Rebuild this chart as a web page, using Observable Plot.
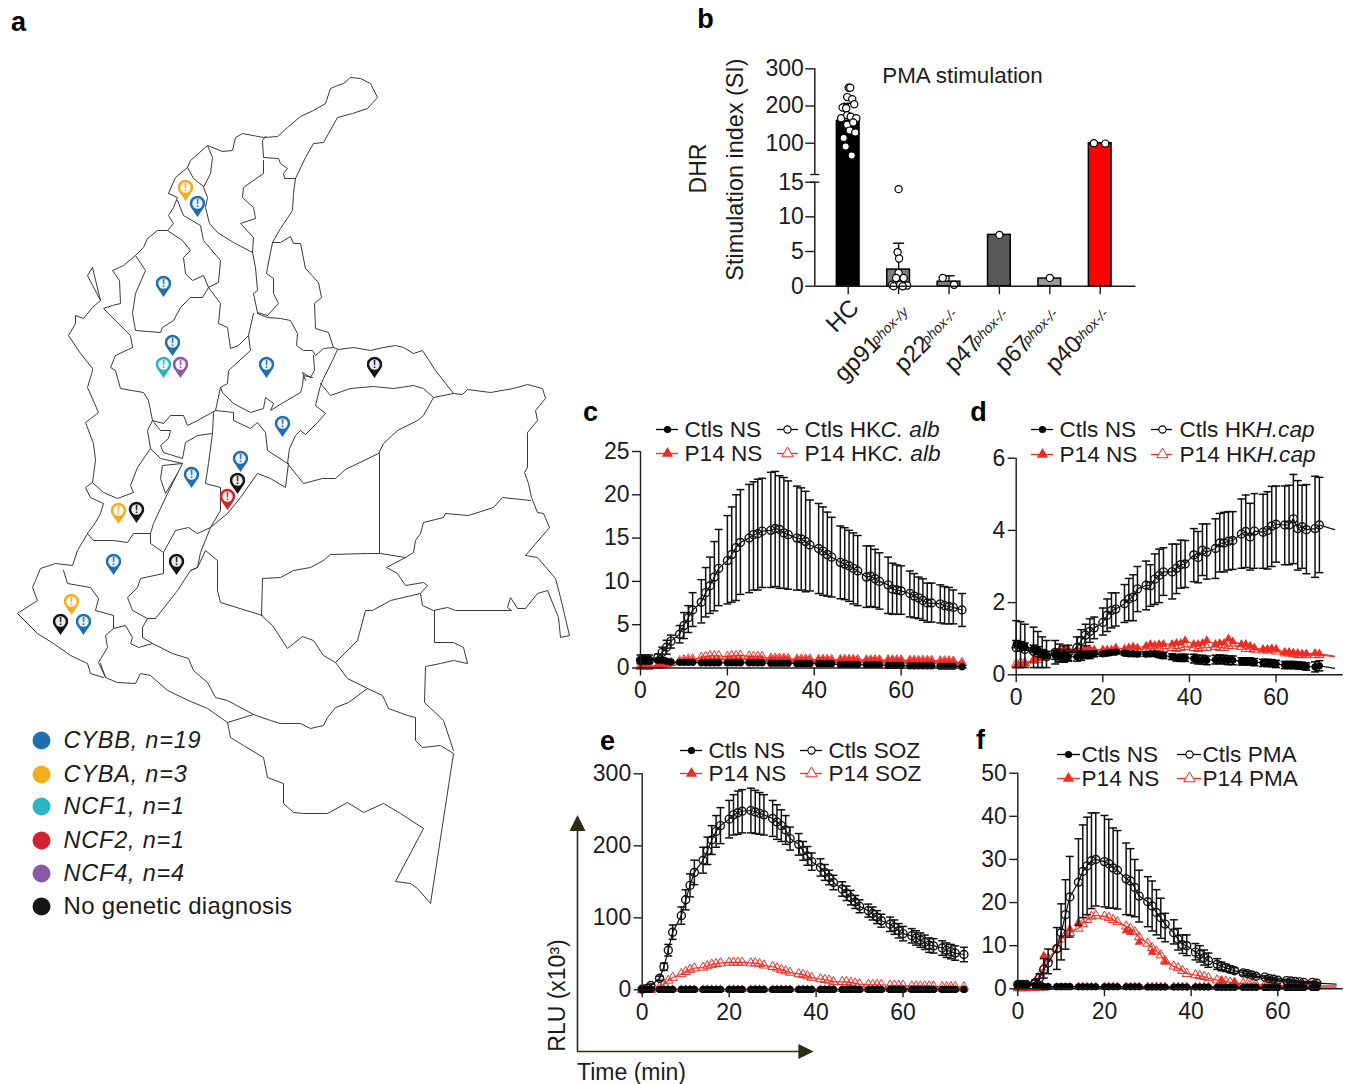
<!DOCTYPE html>
<html><head><meta charset="utf-8">
<style>html,body{margin:0;padding:0;background:#fff}#page{position:relative;width:1345px;height:1084px;overflow:hidden}#page svg{position:absolute;overflow:visible;background:transparent}.lgItalic text{letter-spacing:.8px}.lgPlain text{letter-spacing:.3px}</style>
<script src="https://cdn.jsdelivr.net/npm/d3@7"></script>
<script src="https://cdn.jsdelivr.net/npm/@observablehq/plot@0.6"></script>
</head><body><div id="page"></div>
<script>
// ---------- Panel a: map borders (x,y pairs in map units) ----------
const mapBorders = [
 [168,193,175,177,187,167,190,160,207,145,222,151,232,150,235,137,242,133,263,137,277,136,287,127,300,116,313,110,325,103,330,88,337,85,343,83,350,77,360,78,370,83,377,97,367,108,352,113,337,117,323,142,313,143,305,157,295,178,284,178,283,173,287,168,280,163,278,158,263,157,262,140,265,136],
 [295,178,293,193,292,210,280,228,272,242,267,267,266,273,273,278,273,293,278,303,267,315,257,312],
 [272,242,280,242,290,236,293,243,300,243,305,268,318,282,321,297,314,303,315,328,328,332,333,347],
 [257,313,267,317,280,318,290,320,297,333,296,345,303,350,312,350,315,355,323,348,333,347,338,349,353,347,370,350,383,347,395,345,403,347,413,353,422,350,435,370,453,393],
 [207,145,212,157,210,173,203,187,207,197,205,207,209,223,217,232,233,242,252,252,255,267,257,290,253,293,257,312],
 [252,252,253,237,240,223,255,218,253,207,242,197,243,187,263,173,263,160],
 [203,186,193,178,187,167],
 [168,193,177,197,173,207,168,215,173,223,167,230,157,230,147,238,143,247,135,255,123,265,112,270,119,280,120,303,112,305,103,308,130,335,132,347,115,355,110,367,115,370,120,388,143,392,148,400,152,420,147,430,150,448,160,458,182,463],
 [135,255,145,270,135,293,132,313,135,330,160,332,162,327,173,320,180,307,190,297,202,297,208,287,203,275,192,280,185,273,183,257,190,250,182,240,167,230],
 [177,200,183,215,200,225,203,240,220,260,218,282,208,287,220,303,218,323,227,327,230,348,238,345,248,335,253,313],
 [248,335,250,350,228,370,227,383,220,387,215,410,197,420,187,425,183,415,170,415,163,423,152,420],
 [92,267,87,275,100,300,92,307,83,318,75,315,75,323,68,335,80,353,92,368,92,370,87,387,98,412,85,422,93,443,95,460,92,482,85,487,90,497,103,503,100,513,95,522,87,533,77,550,72,565,55,563,40,568,35,580,32,587,37,600,17,613,37,633,53,643,70,655,87,663,90,673,103,677],
 [92,267,100,300],
 [150,448,137,467,130,485,133,492,117,498,103,492,92,482],
 [87,533,93,540,113,540,127,542,133,533,150,533,153,523,167,493,182,463],
 [150,533,150,543,163,552,163,573,140,578,137,587,127,597,132,610,147,618,155,618,177,590,190,570,197,567,200,552,210,527,227,513,240,497,257,473,270,478,285,487,288,463],
 [182,463,162,465,160,478,165,493,177,473],
 [152,420,160,430,170,430,168,438,160,445,163,452,182,458,185,442,197,435,212,433,213,412,215,410],
 [212,433,208,463,205,483,220,487,220,510,210,527,197,533,188,527,175,530,163,552],
 [215,410,233,412,233,420,250,428,257,422,265,432,267,450,287,463,289,448,295,435,300,430,305,434,317,422,325,413,315,405,320,385,323,378,332,360,337,349],
 [222,392,233,403,250,412,263,408,265,397,273,403,270,410,283,402,300,392,302,385,303,375,312,377],
 [220,387,222,392],
 [313,355,314,370,310,377,302,372,305,380],
 [320,383,330,395,350,388,373,386,393,388,413,385,423,388,433,397,453,393,462,394,467,389,490,392,513,388,527,384,542,388,545,398,535,410,537,420,527,432,527,467,524,472,528,483,531,497,537,512,543,513,549,527,525,555,537,557,555,578,560,597,569,635,560,637,558,617,547,590,537,593,525,608,517,608,510,597,507,607,511,610,455,610,447,607,433,610,422,605,420,593,427,585,423,582,405,585,397,573,386,567,405,557,413,552,415,540,420,533,423,522,443,517,445,513,468,515,493,507,502,497,530,500],
 [433,397,423,415,417,420,397,430,383,443,378,453,345,469,335,478,322,478,303,483,287,463],
 [379,453,379,553],
 [405,557,380,553,367,553,330,554,323,560,310,567,293,570,280,577,262,578,261,615,272,625,287,648,302,636,313,640,323,655,335,662,357,640,365,610,372,610,390,600,420,593],
 [262,615,220,602,217,590,217,560,205,550,197,567],
 [335,662,347,678,367,688,382,695,388,708,407,715,415,717,415,740,422,747,440,745,453,753,430,903,417,888,410,883,395,881,423,828,400,813,383,803,363,812,347,802,327,813,303,813,293,812,283,803,283,783,267,777,263,757,243,745,230,737,227,722],
 [434,610,434,642,453,642,463,647,467,663,453,660,440,663,425,666,424,702,443,720,453,750],
 [367,688,348,702,335,707,327,717,323,725,310,728,300,723,280,723,270,720,253,714,227,722],
 [100,663,105,677,117,682,135,683,140,673,150,675,167,690,188,700,207,708,227,722],
 [155,618,147,618,142,627,142,637,152,643,172,653,188,658,193,670,207,682,215,697,227,700,253,714],
 [113,615,113,628,105,635,107,647,98,662,105,677],
 [113,628,125,625,132,637,130,643,138,647,152,643],
 [113,615,95,610,98,598,90,587,67,583,63,570],
 [197,567,190,570]
];
// ---------- Panel a: diagnostic pins ----------
const pinGene = ["CYBA","CYBB","CYBB","CYBB","NCF1","NCF4","CYBB","None","CYBB","CYBB","None","NCF2","CYBB","CYBA","None","CYBB","None","CYBA","None","CYBB"];
const pinX = [185,197,163,172,163,180,266,374,282,240,237,227,191,118,136,113,176,71,60,83];
const pinY = [187,203,283,342,364,364,364,364,423,458,480,496,474,510,509,561,561,601,621,621];
const geneKeys = ["CYBB","CYBA","NCF1","NCF2","NCF4","None"];
const geneColors = ["#1f6fb0","#f2ae1c","#2bb5c4","#d3202c","#8b58a6","#151515"];
const geneLabels = ["CYBB, n=19","CYBA, n=3","NCF1, n=1","NCF2, n=1","NCF4, n=4","No genetic diagnosis"];
// ---------- Panel b ----------
const bCats = ["HC","gp91","p22","p47","p67","p40"];
const bSupers = ["","phox-/y","phox-/-","phox-/-","phox-/-","phox-/-"];
const bMeans = [160,2.4,0.65,7.4,1.1,100];
const bErrHi = [207,6.2,1.5,null,null,null];
const bFills = ["#000000","#7f7f7f","#7f7f7f","#595959","#999999","#ff0000"];
const bDotCat = [0,0,0,0,0,0,0,0,0,0,0,0,0,0,0,0,0,0,1,1,1,1,1,1,1,1,1,1,1,2,2,3,4,5,5];
const bDotOff = [0.01,0.04,-0.02,0.08,0.12,-0.11,-0.04,-0.14,-0.02,0.05,0.16,-0.02,0.1,0.03,0.14,-0.09,-0.05,0.07,0,-0.02,0.01,0,-0.05,0.1,-0.13,-0.1,0.03,0.17,0.08,-0.125,0.1,0,0,-0.125,0.1];
const bDotVal = [249,249,224,218,205,196,194,167,175,171,167,150,156,134,129,114,91,67,14,4.9,4,1.9,1.2,1.2,0.2,0,0.2,0.1,0,1.2,0.2,7.4,1.2,100,99];
// ---------- Time axes ----------
const t74 = [0,1,2, 4,5,6,7, 9,10,11,12, 14,15,16,17,18, 20,21,22,23, 25,26,27,28, 30,31,32,33,34, 36,37,38,39, 41,42,43,44, 46,47,48,49,50, 52,53,54,55, 57,58,59,60, 62,63,64,65,66,67, 69,70,71,72, 74];
const t70 = [0,1,2, 4,5,6,7, 9,10,11,12, 14,15,16,17,18, 20,21,22,23, 25,26,27,28, 30,31,32,33,34, 36,37,38,39, 41,42,43,44, 46,47,48,49,50, 52,53,54,55, 57,58,59,60, 62,63,64,65,66,67, 69,70];
const t69 = [0,1,2, 4,5,6,7, 9,10,11,12, 14,15,16,17,18, 20,21,22,23, 25,26,27,28, 30,31,32,33,34, 36,37,38,39, 41,42,43,44, 46,47,48,49,50, 52,53,54,55, 57,58,59,60, 62,63,64,65,66, 68,69];
// ---------- Panel c ----------
const cHK = [.9,.9,.9, 1.2,1.8,2.4,3.1, 3.9,4.9,5.8,6.7, 7.6,8.7,9.5,10.5,11.5, 12.4,13.1,13.9,14.5, 15,15.4,15.5,15.8, 15.9,16.1,16,15.6,15.4, 15,14.9,14.6,14.2, 13.8,13.5,13.1,12.8, 12.2,12,11.8,11.5,11.2, 10.5,10.6,10.3,10, 9.6,9.1,9,8.9, 8.6,8.3,8.1,7.8,7.5,7.5, 7.4,7.2,7.1,7, 6.7];
const cHKhi = [1.5,1.5,1.5, 1.6,2.4,3.2,3.8, 4.9,6.4,7.2,8.7, 10.2,11.6,12.8,14.6,16, 17.6,18.6,20,20.6, 21.2,21.5,21.8,21.9, 22.6,22.7,22.2,22,21.6, 21,20.8,20.4,19.4, 19,18.6,18,17.4, 16.4,16.2,15.9,15.6,15.3, 14.1,14.1,13.7,13.3, 12.8,12.1,11.9,11.8, 11.2,10.9,10.5,10.3,9.8,9.8, 9.6,9.4,9.3,9, 8.6];
const cHKlo = [.5,.5,.5, .7,1.2,1.6,2.3, 2.9,3.4,4.1,4.8, 5.2,5.9,6.3,6.6,7.2, 7.4,7.6,7.8,8.5, 8.7,9,9,9.3, 9.3,9.4,9.2,9.2,9.1, 9,9,8.8,8.9, 8.6,8.4,8.3,8.2, 8,7.9,7.7,7.4,7.2, 7,7.1,7,6.8, 6.3,6.2,6.2,6.2, 5.9,5.8,5.7,5.5,5.3,5.3, 5.2,5.1,5.1,5.1, 4.8];
const cNS = [.9,.9,.9, .9,.9,.8,.7, .65,.65,.65,.65, .6,.6,.6,.6,.6, .6,.6,.6,.6, .6,.6,.6,.6, .55,.55,.55,.55,.55, .5,.5,.5,.5, .5,.5,.5,.5, .4,.4,.4,.4,.4, .35,.35,.35,.35, .3,.3,.3,.3, .25,.25,.25,.25,.25,.25, .2,.2,.2,.2, .15];
const cP14NS = [.1,.1,.1, .2,.3,.4,.5, .7,.8,.85,.85, .9,.9,.95,.95,.95, 1,1,1,1, 1,1,1,1, 1,1,1,1,.95, .9,.9,.9,.9, .9,.9,.9,.85, .9,.9,.9,.9,.85, .85,.85,.85,.85, .85,.85,.85,.85, .8,.8,.8,.75,.75,.75, .7,.7,.7,.7, .5];
const cP14HK = [.2,.2,.2, .3,.4,.5,.6, .8,.9,1,1, 1.2,1.3,1.4,1.4,1.4, 1.3,1.4,1.4,1.45, 1.35,1.3,1.3,1.3, 1.1,1.1,1.1,1.1,1.05, 1,1,1,1, .95,.95,.95,.95, .95,.95,.95,.95,.95, .9,.9,.9,.9, .9,.9,.9,.9, .85,.85,.85,.85,.85,.85, .8,.8,.8,.75, .6];
// ---------- Panel d ----------
const dHK = [.75,.75,.7, .65,.6,.58,.5, .62,.6,.55,.6, .75,.95,1.1,1.2,1.3, 1.45,1.65,1.78,1.82, 1.97,2.1,2.15,2.38, 2.48,2.47,2.65,2.75,2.85, 2.85,2.95,3.05,3.07, 3.32,3.25,3.45,3.4, 3.5,3.65,3.65,3.7,3.72, 3.9,3.97,3.82,3.98, 3.95,4,4.12,4.17, 4.15,4.15,4.32,4.05,4.1,4.02, 4.05,4.15];
const dHKhi = [1.5,1.47,1.4, 1.32,1.2,1.05,.95, .95,.85,.8,.82, 1.05,1.25,1.4,1.55,1.6, 1.85,2.1,2.27,2.27, 2.5,2.67,2.77,3, 3.15,3.05,3.35,3.48,3.52, 3.62,3.62,3.73,3.72, 4.05,3.97,4.18,4.18, 4.32,4.47,4.5,4.52,4.52, 4.87,4.98,4.75,5.02, 5,5.07,5.22,5.23, 5.23,5.25,5.55,5.38,5.25,5.27, 5.5,5.47];
const dHKlo = [.2,.2,.2, .2,.2,.2,.2, .3,.35,.35,.4, .5,.65,.8,.9,1, 1.1,1.2,1.3,1.35, 1.45,1.5,1.5,1.75, 1.8,1.9,1.95,2,2.2, 2.1,2.25,2.4,2.42, 2.58,2.55,2.75,2.65, 2.67,2.85,2.85,2.9,2.92, 2.95,2.97,2.9,2.95, 2.95,2.93,3,3.12, 3.05,3.05,3.08,2.9,2.95,2.8, 2.7,2.83];
const dNS = [.85,.82,.78, .72,.68,.6,.55, .55,.5,.47,.5, .5,.52,.55,.55,.58, .58,.6,.62,.63, .6,.58,.58,.57, .57,.58,.58,.55,.53, .5,.47,.47,.47, .45,.42,.42,.4, .42,.43,.42,.4,.4, .37,.37,.37,.35, .33,.33,.32,.3, .27,.27,.27,.26,.25,.23, .22,.25];
const dNSerr = [.1,.1,.1, .1,.1,.1,.1, .12,.12,.12,.12, .12,.12,.1,.1,.08, .06,.06,.05,.05, .05,.06,.06,.06, .06,.06,.07,.07,.08, .08,.09,.1,.1, .12,.12,.12,.12, .12,.12,.12,.12,.12, .1,.1,.1,.1, .1,.1,.1,.1, .1,.1,.1,.1,.1,.1, .14,.14];
const dP14NS = [.25,.28,.3, .4,.45,.5,.55, .6,.68,.72,.72, .7,.68,.72,.72,.7, .7,.7,.7,.75, .72,.75,.78,.75, .8,.85,.82,.85,.85, .85,.88,.88,.95, .85,.85,.88,.95, .85,.88,.88,1,.92, .85,.85,.8,.75, .7,.7,.72,.72, .62,.62,.6,.6,.58,.58, .6,.58];
const dP14HK = [.3,.33,.33, .4,.42,.48,.55, .6,.62,.65,.65, .65,.65,.68,.65,.65, .6,.6,.62,.65, .65,.7,.72,.7, .72,.72,.72,.75,.72, .75,.72,.75,.78, .75,.72,.75,.75, .78,.75,.75,.8,.8, .78,.72,.72,.7, .68,.68,.7,.65, .6,.6,.58,.55,.55,.55, .55,.55];
// ---------- Panel e ----------
const eSOZ = [1,2,6, 16,32,55,80, 103,125,145,163, 180,193,208,220,228, 237,243,246,248, 249,247,245,243, 238,233,228,222,210, 202,193,186,178, 170,163,156,149, 140,134,128,122,116, 110,106,101,96, 91,87,82,78, 75,72,69,66,62,61, 58,55,53,51, 49];
const eSOZerr = [1,1,2, 3,5,8,10, 12,14,16,17, 18,19,20,22,25, 26,28,30,30, 31,30,29,28, 25,24,22,20,16, 15,13,13,12, 12,11,10,10, 10,10,10,9,9, 9,9,9,9, 10,10,10,10, 10,10,10,10,10,10, 10,10,10,10, 10];
const eP14SOZ = [0,0,0, 4,8,13,17, 22,25,28,30, 31,33,35,36,37, 38,38,38,38, 37,37,36,34, 32,30,28,26,24, 22,21,19,17, 15,14,13,11, 11,11,10,9,8, 7,7,7,7, 6,6,6,6, 5,5,5,5,5,5, 4,4,4,4, 4];
const eNS = [.5,.5,.5, .5,.5,.5,.5, .5,.5,.5,.5, .5,.5,.5,.5,.5, .5,.5,.5,.5, .5,.5,.5,.5, .5,.5,.5,.5,.5, .5,.5,.5,.5, .5,.5,.5,.5, .5,.5,.5,.5,.5, .5,.5,.5,.5, .5,.5,.5,.5, .5,.5,.5,.5,.5,.5, .5,.5,.5,.5, .5];
const eP14NS = [0,0,0, .5,.5,.5,.5, .5,.5,.5,.5, .5,.5,.5,.5,.5, .5,.5,.5,.5, .5,.5,.5,.5, .5,.5,.5,.5,.5, .5,.5,.5,.5, .5,.5,.5,.5, .5,.5,.5,.5,.5, .5,.5,.5,.5, .5,.5,.5,.5, .5,.5,.5,.5,.5,.5, .5,.5,.5,.5, .5];
// ---------- Panel f ----------
const fPMA = [1,1,1, 1.4,2.5,4.5,6, 9.3,13,17.2,21.3, 24.7,27.2,28.5,29.7,30, 29.5,29,28,27.5, 25.5,25,23.5,21.5, 20.2,19.2,17.7,16.5,15, 13,11.5,10.2,10, 8.5,8,7.2,6.5, 5.7,5.2,4.9,4.5,4.2, 3.7,3.5,3.2,2.9, 2.7,2.4,2.2,2, 1.9,1.8,1.7,1.6,1.5, 1.5,1.3];
const fPMAhi = [1.5,1.5,1.5, 2,3.5,7,9.2, 14.2,19.7,25.3,30.7, 34.8,38,39.8,40.8,40.8, 40.2,39.3,37.3,36.7, 33.8,32.5,30,27.5, 26,25,23,21,17.5, 16,14,12.5,12.5, 10.5,10,9,8.3, 7,6.2,5.7,5.3,4.9, 4.2,4,3.6,3.3, 3,2.7,2.5,2.3, 2.2,2,1.9,1.8,1.7, 1.7,1.5];
const fPMAlo = [.5,.5,.5, .8,1.5,2.5,3.5, 4.5,6.7,9.2,12, 14.7,16.5,17.2,18.6,19.2, 19,18.7,18.7,18.5, 17.2,17,16.7,15.5, 14.4,13.4,12.5,11.7,10.9, 10.4,9,8.2,7.7, 6.7,6.2,5.5,5, 4.5,4.2,4,3.8,3.6, 3.2,3,2.8,2.6, 2.4,2.1,2,1.8, 1.6,1.5,1.5,1.4,1.3, 1.3,1.1];
const fP14PMA = [.3,.3,.3, 1.5,3,5,7, 9.3,11.5,12.5,13, 14,15,16,16.8,17, 16.8,16.5,16,15.5, 14.5,14,13.2,12, 10.5,9.5,8.7,7.8,6.5, 5.2,4.8,4.2,3.5, 3.2,3,2.8,2.5, 2,1.8,1.7,1.5,1.4, 1.2,1.1,1,.9, .9,.8,.8,.8, .8,.8,.8,.8,.7, .7,.7];
const fNS = [.9,.9,.9, .8,.7,.5,.5, .5,.5,.5,.5, .45,.45,.45,.45,.45, .45,.45,.45,.45, .45,.45,.45,.45, .4,.4,.4,.4,.4, .4,.4,.4,.4, .4,.4,.4,.4, .35,.35,.35,.35,.35, .35,.35,.35,.35, .3,.3,.3,.3, .3,.3,.3,.3,.3, .3,.3];
const fP14NS = [0,0,0, .1,.2,.2,.3, .4,.4,.4,.4, .5,.5,.5,.5,.5, .5,.5,.5,.5, .5,.5,.5,.5, .5,.5,.5,.5,.5, .5,.5,.5,.5, .5,.5,.5,.5, .5,.5,.5,.5,.5, .5,.5,.5,.5, .5,.5,.5,.5, .4,.4,.4,.4,.4, .4,.4];
const fFilledT = [6,12,14,25,26,28,31,34,47,50];
const fFilledV = [7.7,13.9,15.4,13.5,13.1,10.8,8.5,6.2,1.9,1.5];

// ---------- Shared styling ----------
const FONT = "Liberation Sans", INK = "#1c1c1c", RED = "#ee2c24";
const page = document.getElementById("page");
const st = {fontFamily: FONT, background: "transparent", color: INK};
function mount(plot, left, top) { plot.style.left = left + "px"; plot.style.top = top + "px"; page.appendChild(plot); }
function rows(t, v, hi, lo) { return t.map((x, i) => ({t: x, v: v[i], hi: hi ? hi[i] : null, lo: lo ? lo[i] : null})); }
function plusMinus(v, e) { return [v.map((x, i) => x + e[i]), v.map((x, i) => Math.max(0, x - e[i]))]; }
const capSym = {draw(c, s) { const r = Math.sqrt(s / Math.PI); c.moveTo(-r, 0); c.lineTo(r, 0); }};
const downSym = {draw(c, s) { const r = Math.sqrt(s / Math.PI); c.moveTo(0, 0); c.lineTo(0, r); }};
function pinPath(c, s) { const r = Math.sqrt(s / Math.PI); c.moveTo(0, 1.75 * r); c.lineTo(-r * 0.866, r * 0.5); c.arc(0, 0, r, 5 * Math.PI / 6, 13 * Math.PI / 6); c.closePath(); }
const upSym = {draw(c, s) { const r = Math.sqrt(s / Math.PI); c.moveTo(0, -r); c.lineTo(r, r); c.lineTo(-r, r); c.closePath(); }};
const rightSym = {draw(c, s) { const r = Math.sqrt(s / Math.PI); c.moveTo(r, 0); c.lineTo(-r, r); c.lineTo(-r, -r); c.closePath(); }};

function series(data, kind, color, lineExtra) {
  const line = lineExtra ? data.concat(lineExtra) : data;
  const out = kind === "pts" || kind === "filled" ? [] : [Plot.line(line, {x: "t", y: "v", stroke: color, strokeWidth: 1.2})];
  const withErr = data.filter(d => d.hi != null);
  if (withErr.length) {
    out.push(Plot.ruleX(withErr, {x: "t", y1: "lo", y2: "hi", stroke: color, strokeWidth: 1.5}));
    out.push(Plot.dot(withErr, {x: "t", y: "hi", symbol: capSym, r: 4, stroke: color, strokeWidth: 1.5, fill: "none"}));
    out.push(Plot.dot(withErr, {x: "t", y: "lo", symbol: capSym, r: 4, stroke: color, strokeWidth: 1.5, fill: "none"}));
  }
  if (kind === "dot") out.push(Plot.dot(data, {x: "t", y: "v", r: 3.6, fill: color, stroke: "none"}));
  if (kind === "ring") out.push(Plot.dot(data, {x: "t", y: "v", r: 4, fill: "none", stroke: color, strokeWidth: 1.4}));
  if (kind === "tri" || kind === "filled") out.push(Plot.dot(data, {x: "t", y: "v", r: 3.3, symbol: "triangle", fill: color, stroke: "none"}));
  if (kind === "otri") out.push(Plot.dot(data, {x: "t", y: "v", r: 3.5, symbol: "triangle", fill: "none", stroke: color, strokeWidth: 1}));
  return out;
}
function timePanel(box, x0, xEnd, xMax, yTop, yBase, yMax, yTicks, marks) {
  const [L, T, W, H] = box;
  mount(Plot.plot({
    width: W, height: H, style: st,
    marginLeft: x0 - L, marginRight: L + W - xEnd, marginTop: yTop - T, marginBottom: T + H - yBase,
    x: {domain: [0, xMax]}, y: {domain: [0, yMax]},
    marks: [
      ...marks,
      Plot.ruleY([0], {x1: 0, x2: xMax, stroke: INK, strokeWidth: 1.4}),
      Plot.ruleX([0], {y1: 0, y2: yMax, stroke: INK, strokeWidth: 1.4}),
      Plot.axisX({ticks: [0, 20, 40, 60], tickSize: 8, tickPadding: 6, fontSize: 23, label: null, stroke: INK, strokeWidth: 1.4, fill: INK, tickFormat: d => String(d)}),
      Plot.axisY({ticks: yTicks, tickSize: 8, tickPadding: 3, fontSize: 23, label: null, stroke: INK, strokeWidth: 1.4, fill: INK, tickFormat: d => String(d)})
    ]
  }), L, T);
}

// ---------- Base layer: map, pins, legends, panel letters, arrows ----------
const borderPts = mapBorders.flatMap((b, k) => { const o = []; for (let i = 0; i < b.length; i += 2) o.push({k, x: b[i], y: b[i + 1]}); return o; });
const pins = pinGene.map((g, i) => ({g, x: pinX[i], y: pinY[i], c: geneColors[geneKeys.indexOf(g)]}));
const legendA = geneKeys.map((g, i) => ({c: geneColors[i], label: geneLabels[i], y: [740, 774, 806, 840, 873, 906][i]}));
const letters = [["a", 18, 22], ["b", 705, 19], ["c", 590, 412], ["d", 978, 412], ["e", 607, 741], ["f", 980, 740]].map(([s, x, y]) => ({s, x, y}));
const plainLabels = [
  {s: "PMA stimulation", x: 962, y: 75, a: 0, f: 22.4},
  {s: "Time (min)", x: 631, y: 1072, a: 0, f: 23},
  {s: "DHR", x: 698, y: 168, a: -90, f: 23},
  {s: "Stimulation index (SI)", x: 735, y: 169, a: -90, f: 23.4},
  {s: "RLU (x10³)", x: 557, y: 995, a: -90, f: 23}
];
const legendLayout = [
  {l1: [656, 678], m1: 667, t1: 684, l2: [777, 798], m2: 787, t2: 804, y1: 429, y2: 453, j: [880, 881], a: "Ctls NS", b: "P14 NS", c: "Ctls HK", d: "P14 HK", i: "C. alb"},
  {l1: [1031, 1053], m1: 1042, t1: 1059, l2: [1151, 1172], m2: 1162, t2: 1179, y1: 429, y2: 454, j: [1255, 1256], a: "Ctls NS", b: "P14 NS", c: "Ctls HK", d: "P14 HK", i: "H.cap"},
  {l1: [680, 702], m1: 691, t1: 708, l2: [800, 822], m2: 811, t2: 828, y1: 750, y2: 773, j: null, a: "Ctls NS", b: "P14 NS", c: "Ctls SOZ", d: "P14 SOZ"},
  {l1: [1057, 1080], m1: 1068, t1: 1081, l2: [1177, 1201], m2: 1189, t2: 1202, y1: 754, y2: 778, j: null, a: "Ctls NS", b: "P14 NS", c: "Ctls PMA", d: "P14 PMA"}
];
const lgLines = [], lgDots = [], lgText = [];
for (const g of legendLayout) {
  lgLines.push({x1: g.l1[0], x2: g.l1[1], y: g.y1, c: "#000"}, {x1: g.l1[0], x2: g.l1[1], y: g.y2, c: RED},
               {x1: g.l2[0], x2: g.l2[1], y: g.y1, c: "#000"}, {x1: g.l2[0], x2: g.l2[1], y: g.y2, c: RED});
  lgDots.push({x: g.m1, y: g.y1, k: "dot"}, {x: g.m1, y: g.y2, k: "tri"}, {x: g.m2, y: g.y1, k: "ring"}, {x: g.m2, y: g.y2, k: "otri"});
  lgText.push({x: g.t1, y: g.y1, s: g.a}, {x: g.t1, y: g.y2, s: g.b}, {x: g.t2, y: g.y1, s: g.c}, {x: g.t2, y: g.y2, s: g.d});
  if (g.j) lgText.push({x: g.j[0], y: g.y1, s: g.i, it: 1}, {x: g.j[1], y: g.y2, s: g.i, it: 1});
}
const arrowShaft = [{x: 577, y: 829}, {x: 577, y: 1051}, {x: 800, y: 1051}];
mount(Plot.plot({
  width: 1345, height: 1084, margin: 0, style: st,
  x: {domain: [0, 1345], axis: null}, y: {domain: [0, 1084], range: [0, 1084], axis: null},
  marks: [
    Plot.line(borderPts, {x: "x", y: "y", z: "k", stroke: "#3a3a3a", strokeWidth: 1}),
    Plot.dot(pins, {x: "x", y: "y", symbol: {draw: pinPath}, r: 7.7, fill: "c", stroke: "none"}),
    Plot.dot(pins, {x: "x", y: "y", r: 5.2, fill: "#fff", fillOpacity: 0.92, stroke: "none"}),
    Plot.text(pins, {x: "x", y: "y", text: () => "!", fill: "c", fontSize: 10.5, fontWeight: "bold", fontFamily: FONT}),
    Plot.dot(legendA, {x: () => 41, y: "y", r: 9, fill: "c", stroke: "none"}),
    Plot.text(legendA.slice(0, 5), {x: () => 63, y: "y", text: "label", textAnchor: "start", fontSize: 23.5, fontStyle: "italic", fontFamily: FONT, fill: INK, className: "lgItalic"}),
    Plot.text(legendA.slice(5), {x: () => 63, y: "y", text: "label", textAnchor: "start", fontSize: 24, fontFamily: FONT, fill: INK, className: "lgPlain"}),
    Plot.text(letters, {x: "x", y: "y", text: "s", fontSize: 27, fontWeight: "bold", fontFamily: FONT, fill: "#000"}),
    Plot.text(plainLabels, {x: "x", y: "y", text: "s", rotate: "a", fontSize: "f", fontFamily: FONT, fill: INK}),
    Plot.ruleY(lgLines, {x1: "x1", x2: "x2", y: "y", stroke: "c", strokeWidth: 1.3}),
    Plot.dot(lgDots.filter(d => d.k === "dot"), {x: "x", y: "y", r: 3.6, fill: "#000", stroke: "none"}),
    Plot.dot(lgDots.filter(d => d.k === "ring"), {x: "x", y: "y", r: 3.6, fill: "#fff", stroke: "#000", strokeWidth: 1.1}),
    Plot.dot(lgDots.filter(d => d.k === "tri"), {x: "x", y: "y", r: 4.2, symbol: "triangle", fill: RED, stroke: "none"}),
    Plot.dot(lgDots.filter(d => d.k === "otri"), {x: "x", y: "y", r: 4.2, symbol: "triangle", fill: "#fff", stroke: RED, strokeWidth: 1}),
    Plot.text(lgText.filter(d => !d.it), {x: "x", y: "y", text: "s", textAnchor: "start", fontSize: 22.6, fontFamily: FONT, fill: INK}),
    Plot.text(lgText.filter(d => d.it), {x: "x", y: "y", text: "s", textAnchor: "start", fontSize: 22.6, fontStyle: "italic", fontFamily: FONT, fill: INK}),
    Plot.line(arrowShaft, {x: "x", y: "y", stroke: "#2d2a17", strokeWidth: 1.6}),
    Plot.dot([{x: 577, y: 822.5}], {x: "x", y: "y", symbol: upSym, r: 8, fill: "#2d2a17", stroke: "none"}),
    Plot.dot([{x: 805.5, y: 1051}], {x: "x", y: "y", symbol: rightSym, r: 7.6, fill: "#2d2a17", stroke: "none"})
  ]
}), 0, 0);

// ---------- Panel b ----------
{
  const L = 760, T = 55, W = 385, H = 325, axisI = -0.663, endI = 5.71;
  const xp = i => 847.7 + 50.4 * i;
  const bars = bCats.map((c, i) => ({i, c, v: bMeans[i], hi: bErrHi[i], f: bFills[i], sup: bSupers[i]}));
  const errs = bars.filter(d => d.hi != null);
  const dots = bDotCat.map((c, k) => ({x: c + bDotOff[k], v: bDotVal[k]}));
  const y0 = 285.7 - T;
  mount(Plot.plot({
    width: W, height: H, style: st,
    marginLeft: xp(axisI) - L, marginRight: L + W - xp(endI), marginTop: 68.3 - T, marginBottom: T + H - 285.7,
    x: {domain: [axisI, endI], axis: null},
    y: {type: "linear", domain: [0, 15, 16, 300], range: [y0, 181.7 - T, 174 - T, 68.3 - T]},
    marks: [
      Plot.rect(bars, {x1: d => d.i - 0.225, x2: d => d.i + 0.225, y1: () => 0, y2: "v", fill: "f", stroke: "#000", strokeWidth: 1.5}),
      Plot.ruleX(errs, {x: "i", y1: "v", y2: "hi", stroke: "#000", strokeWidth: 1.4}),
      Plot.dot(errs, {x: "i", y: "hi", symbol: capSym, r: 5.5, stroke: "#000", strokeWidth: 1.4, fill: "none"}),
      Plot.dot(dots, {x: "x", y: "v", r: 3.6, fill: "#fff", stroke: "#000", strokeWidth: 1.2}),
      Plot.ruleY([0], {x1: axisI, x2: endI, stroke: INK, strokeWidth: 1.5}),
      Plot.ruleX([axisI], {y1: 0, y2: 15, stroke: INK, strokeWidth: 1.5}),
      Plot.ruleX([axisI], {y1: 16, y2: 300, stroke: INK, strokeWidth: 1.5}),
      Plot.dot([15, 16], {x: () => axisI, y: d => d, symbol: capSym, r: 4.6, stroke: INK, strokeWidth: 1.4, fill: "none"}),
      Plot.axisY({ticks: [0, 5, 10, 15, 100, 200, 300], tickSize: 9, tickPadding: 2, fontSize: 23, label: null, stroke: INK, strokeWidth: 1.4, fill: INK, tickFormat: d => String(d)}),
      Plot.dot(bars, {x: "i", y: () => 0, symbol: downSym, r: 8, stroke: INK, strokeWidth: 1.4, fill: "none"}),
      Plot.text(bars.slice(0, 1), {x: "i", frameAnchor: "bottom", dx: 12, dy: 23, text: "c", rotate: -45, textAnchor: "end", fontSize: 24, fontFamily: FONT, fill: INK}),
      Plot.text(bars.slice(1), {x: "i", frameAnchor: "bottom", dx: -17, dy: 59, text: "c", rotate: -45, textAnchor: "end", fontSize: 24, fontFamily: FONT, fill: INK}),
      Plot.text(bars.slice(1), {x: "i", frameAnchor: "bottom", dx: -22, dy: 59, text: "sup", rotate: -45, textAnchor: "start", fontSize: 14, fontStyle: "italic", fontFamily: FONT, fill: INK})
    ]
  }), L, T);
}

// ---------- Panels c-f ----------
timePanel([590, 440, 385, 265], 640, 966.7, 75.2, 451, 667.5, 25, [0, 5, 10, 15, 20, 25], [
  ...series(rows(t74, cP14HK), "otri", RED),
  ...series(rows(t74, cP14NS), "tri", RED),
  ...series(rows(t74, cHK, cHKhi, cHKlo), "ring", "#111"),
  ...series(rows(t74, cNS), "dot", "#000")
]);
{
  const [dh, dl] = plusMinus(dNS, dNSerr);
  timePanel([965, 445, 380, 265], 1015.7, 1342.7, 75.5, 457.7, 674.3, 6, [0, 2, 4, 6], [
    ...series(rows(t70, dP14HK), "otri", RED, [{t: 73.5, v: .5}]),
    ...series(rows(t70, dP14NS), "tri", RED, [{t: 73.5, v: .52}]),
    ...series(rows(t70, dHK, dHKhi, dHKlo), "ring", "#111", [{t: 73.5, v: 4.02}]),
    ...series(rows(t70, dNS, dh, dl), "dot", "#000", [{t: 73.5, v: .18}])
  ]);
}
{
  const [eh, el] = plusMinus(eSOZ, eSOZerr);
  timePanel([590, 765, 385, 260], 641.7, 963, 73.9, 773.3, 989.3, 300, [0, 100, 200, 300], [
    ...series(rows(t74, eP14SOZ), "otri", RED),
    ...series(rows(t74, eP14NS), "tri", RED),
    ...series(rows(t74, eSOZ, eh, el), "ring", "#111"),
    ...series(rows(t74, eNS), "dot", "#000")
  ]);
}
timePanel([965, 765, 380, 260], 1017.3, 1342.7, 75.1, 772.7, 988.3, 50, [0, 10, 20, 30, 40, 50], [
  ...series(rows(t69, fP14PMA), "otri", RED, [{t: 73.5, v: .7}]),
  ...series(rows(t69, fP14NS), "tri", RED, [{t: 73.5, v: .4}]),
  ...series(rows(fFilledT, fFilledV), "filled", RED),
  ...series(rows(t69, fPMA, fPMAhi, fPMAlo), "ring", "#111", [{t: 73.5, v: 1.1}]),
  ...series(rows(t69, fNS), "dot", "#000")
]);
</script>
</body></html>
